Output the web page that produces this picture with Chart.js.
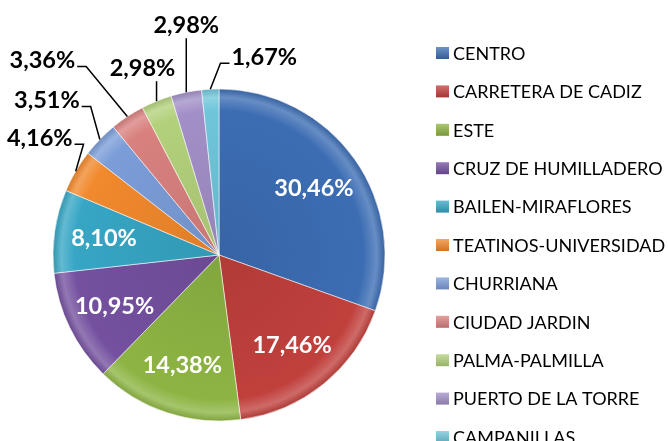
<!DOCTYPE html>
<html>
<head>
<meta charset="utf-8">
<script src="https://cdn.jsdelivr.net/npm/chart.js@4.4.0/dist/chart.umd.min.js"></script>
<style>
  html, body { margin: 0; padding: 0; background: #fff; }
</style>
</head>
<body>
<canvas id="chart" width="668" height="441"></canvas>
<script>
const districts = [
  "CENTRO", "CARRETERA DE CADIZ", "ESTE", "CRUZ DE HUMILLADERO", "BAILEN-MIRAFLORES",
  "TEATINOS-UNIVERSIDAD", "CHURRIANA", "CIUDAD JARDIN", "PALMA-PALMILLA",
  "PUERTO DE LA TORRE", "CAMPANILLAS"
];
const shares = [30.46, 17.46, 14.38, 10.95, 8.10, 4.16, 3.51, 3.36, 2.98, 2.98, 1.67];

const sliceColors = [
  "#3c6db3", "#c0403c", "#8db443", "#74509f", "#36a6c4", "#f1892d",
  "#7b9dd8", "#d8817f", "#b3d17c", "#a28fc7", "#70c5da"
];

// small slices get their label outside, moved off the rim by this much (px)
const outsideOffsets = {
  5: [-36, -33],
  6: [-53, -39],
  7: [-85, -56],
  8: [-14, -33],
  9: [0, -67],
  10: [54, -32]
};

const labelFont = "bold 23.5px Lato";
const legendFont = "18px Lato";

function mix(hex, other, t) {
  const a = parseInt(hex.slice(1), 16), b = parseInt(other.slice(1), 16);
  const ch = s => {
    const x = (a >> s) & 255, y = (b >> s) & 255;
    return Math.round(x + (y - x) * t);
  };
  return `rgb(${ch(16)},${ch(8)},${ch(0)})`;
}

function sliceFill(c) {
  const base = sliceColors[c.dataIndex];
  const area = c.chart.chartArea;
  if (!area) return base;
  const cx = (area.left + area.right) / 2, cy = (area.top + area.bottom) / 2;
  const g = c.chart.ctx.createRadialGradient(cx, cy, 0, cx, cy, 166);
  g.addColorStop(0, mix(base, "#000000", 0.08));
  g.addColorStop(0.87, base);
  g.addColorStop(0.95, mix(base, "#ffffff", 0.22));
  g.addColorStop(1, mix(base, "#000000", 0.1));
  return g;
}

const sliceLabels = {
  id: "sliceLabels",
  afterDatasetsDraw(chart) {
    const ctx = chart.ctx;
    const arcs = chart.getDatasetMeta(0).data;
    ctx.save();
    ctx.font = labelFont;
    ctx.textAlign = "center";
    ctx.textBaseline = "middle";
    arcs.forEach((arc, i) => {
      const { x, y, startAngle, endAngle, outerRadius } =
        arc.getProps(["x", "y", "startAngle", "endAngle", "outerRadius"], true);
      const mid = (startAngle + endAngle) / 2;
      const text = shares[i].toFixed(2).replace(".", ",") + "%";
      const off = outsideOffsets[i];
      if (!off) {
        const r = outerRadius * 0.7;
        ctx.fillStyle = "#ffffff";
        ctx.fillText(text, x + Math.cos(mid) * r, y + Math.sin(mid) * r);
        return;
      }
      const ax = x + Math.cos(mid) * outerRadius;
      const ay = y + Math.sin(mid) * outerRadius;
      const lx = ax + off[0], ly = ay + off[1];
      const w = ctx.measureText(text).width;
      ctx.fillStyle = "#000000";
      ctx.fillText(text, lx, ly);

      ctx.beginPath();
      ctx.strokeStyle = "#000000";
      ctx.lineWidth = 1.5;
      if (ax > lx - w / 2 && ax < lx + w / 2) {
        ctx.moveTo(ax, ly + 13);
        ctx.lineTo(ax, ay);
      } else {
        const side = ax > lx ? 1 : -1;
        const sx = lx + side * (w / 2 + 2), sy = ly + 6;
        ctx.moveTo(sx, sy);
        ctx.lineTo(sx + side * 9, sy);
        ctx.lineTo(ax, ay);
      }
      ctx.stroke();
    });
    ctx.restore();
  }
};

const sideLegend = {
  id: "sideLegend",
  afterDraw(chart) {
    const ctx = chart.ctx;
    ctx.save();
    ctx.font = legendFont;
    ctx.textBaseline = "middle";
    ctx.textAlign = "left";
    chart.data.labels.forEach((name, i) => {
      const y = 53 + i * 38.4;
      const base = sliceColors[i];
      const g = ctx.createLinearGradient(0, y - 6, 0, y + 6);
      g.addColorStop(0, mix(base, "#ffffff", 0.25));
      g.addColorStop(1, mix(base, "#000000", 0.15));
      ctx.fillStyle = g;
      ctx.fillRect(436, y - 6, 13, 12);
      ctx.fillStyle = "#000000";
      ctx.fillText(name, 453, y + 1);
    });
    ctx.restore();
  }
};

new Chart(document.getElementById("chart"), {
  type: "pie",
  data: {
    labels: districts,
    datasets: [{
      data: shares,
      backgroundColor: sliceFill,
      borderColor: "rgba(255,255,255,0.55)",
      borderWidth: 1
    }]
  },
  options: {
    responsive: false,
    animation: false,
    radius: 166,
    layout: { padding: { left: 40, right: 270, top: 76, bottom: 7 } },
    plugins: {
      legend: { display: false },
      tooltip: { enabled: false }
    }
  },
  plugins: [sliceLabels, sideLegend]
});
</script>
</body>
</html>
